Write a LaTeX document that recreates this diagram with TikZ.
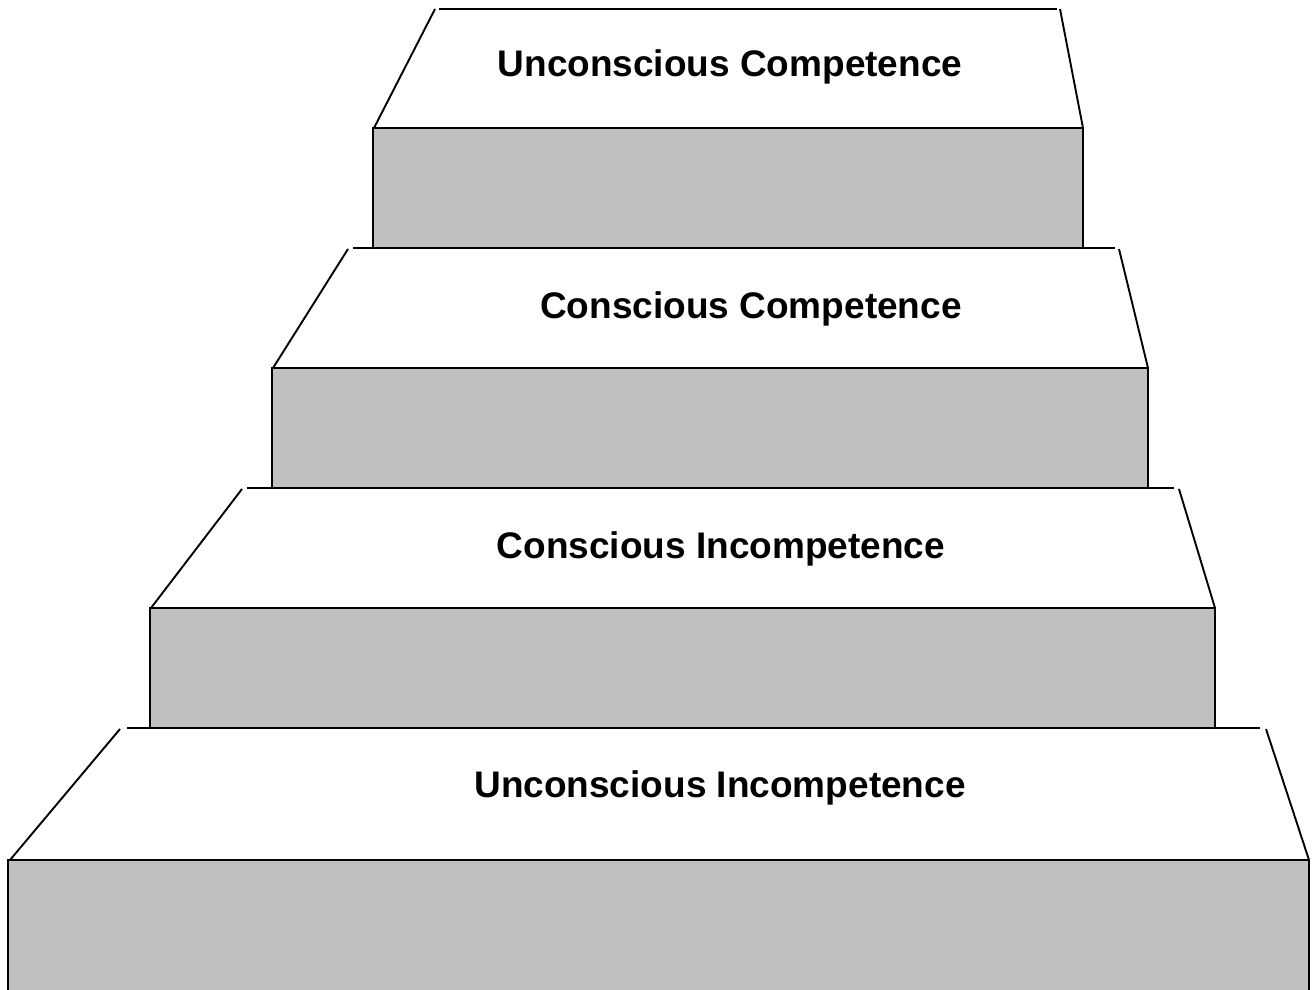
\documentclass[tikz,border=0pt]{standalone}
\usepackage{fontspec}
\setmainfont{Liberation Sans}
\definecolor{stepgray}{HTML}{C0C0C0}
\begin{document}
\begin{tikzpicture}[x=1pt,y=-1pt,
  edge/.style={line width=1.9pt,black},
  riser/.style={fill=stepgray,line width=1.9pt,draw=black},
  label/.style={anchor=base,font=\bfseries\fontsize{37}{40}\selectfont,inner sep=0pt}]
\useasboundingbox (0,0) rectangle (1314,990);
% step 1 (top)
\draw[edge] (439,9) -- (1057,9);
\draw[edge] (435,9) -- (374,128);
\draw[edge] (1060,9) -- (1083,128);
\draw[riser] (373,128) rectangle (1083,248);
\node[label] (t1) at (730,77) {Unconscious Competence};
% step 2
\draw[edge] (353,248) -- (1115,248);
\draw[edge] (348,249) -- (273,368);
\draw[edge] (1119,249) -- (1148,368);
\draw[riser] (272,368) rectangle (1148,488);
\node[label] (t2) at (751,318) {Conscious Competence};
% step 3
\draw[edge] (247,488) -- (1174,488);
\draw[edge] (242,489) -- (151,608);
\draw[edge] (1179,489) -- (1215,608);
\draw[riser] (150,608) rectangle (1215,728);
\node[label] (t3) at (721,558) {Conscious Incompetence};
% step 4 (bottom)
\draw[edge] (127,728) -- (1260,728);
\draw[edge] (120,729) -- (10,860);
\draw[edge] (1266,729) -- (1309,860);
\fill[stepgray] (8,860) rectangle (1309,991);
\draw[edge] (8,992) -- (8,860) -- (1309,860) -- (1309,992);
\node[label] (t4) at (720,797) {Unconscious Incompetence};
\end{tikzpicture}
\end{document}
